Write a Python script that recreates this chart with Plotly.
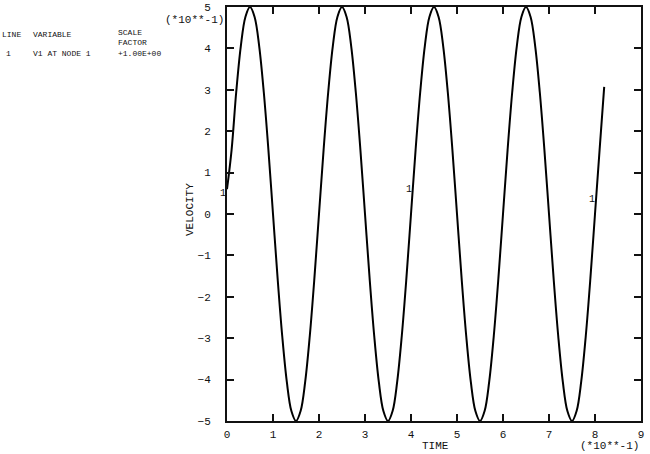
import plotly.graph_objects as go

# Data (time and velocity in units of 10**-1)
time = [0.0, 0.1, 0.2, 0.3, 0.4, 0.5, 0.6, 0.7, 0.8, 0.9,
        1.0, 1.1, 1.2, 1.3, 1.4, 1.5, 1.6, 1.7, 1.8, 1.9,
        2.0, 2.1, 2.2, 2.3, 2.4, 2.5, 2.6, 2.7, 2.8, 2.9,
        3.0, 3.1, 3.2, 3.3, 3.4, 3.5, 3.6, 3.7, 3.8, 3.9,
        4.0, 4.1, 4.2, 4.3, 4.4, 4.5, 4.6, 4.7, 4.8, 4.9,
        5.0, 5.1, 5.2, 5.3, 5.4, 5.5, 5.6, 5.7, 5.8, 5.9,
        6.0, 6.1, 6.2, 6.3, 6.4, 6.5, 6.6, 6.7, 6.8, 6.9,
        7.0, 7.1, 7.2, 7.3, 7.4, 7.5, 7.6, 7.7, 7.8, 7.9,
        8.0, 8.1, 8.2]
velocity = [0.6, 1.55, 2.94, 4.05, 4.76, 5.0, 4.76, 4.05, 2.94, 1.55,
            0.0, -1.55, -2.94, -4.05, -4.76, -5.0, -4.76, -4.05, -2.94, -1.55,
            0.0, 1.55, 2.94, 4.05, 4.76, 5.0, 4.76, 4.05, 2.94, 1.55,
            0.0, -1.55, -2.94, -4.05, -4.76, -5.0, -4.76, -4.05, -2.94, -1.55,
            0.0, 1.55, 2.94, 4.05, 4.76, 5.0, 4.76, 4.05, 2.94, 1.55,
            0.0, -1.55, -2.94, -4.05, -4.76, -5.0, -4.76, -4.05, -2.94, -1.55,
            0.0, 1.55, 2.94, 4.05, 4.76, 5.0, 4.76, 4.05, 2.94, 1.55,
            0.0, -1.55, -2.94, -4.05, -4.76, -5.0, -4.76, -4.05, -2.94, -1.55,
            0.0, 1.55, 3.07]

x_ticks = [0, 1, 2, 3, 4, 5, 6, 7, 8, 9]
y_ticks = [-5, -4, -3, -2, -1, 0, 1, 2, 3, 4, 5]

# curve-label ("1") positions
label_time = [0.0, 4.04, 8.02]
label_vel = [0.5, 0.6, 0.35]

MONO = "Liberation Mono"

fig = go.Figure()
fig.add_trace(go.Scatter(x=time, y=velocity, mode="lines",
                         line=dict(color="black", width=2, shape="spline", smoothing=1.0),
                         showlegend=False, hoverinfo="skip"))

L, R, T, B = 227, 641, 7, 421
W, H = 650, 454

def px(x):
    return (x - L) / (R - L)

def py(y):
    return (B - y) / (B - T)

ann = []
for lt, lv in zip(label_time, label_vel):
    ann.append(dict(x=lt, y=lv, xref="x", yref="y", text="1", showarrow=False,
                    xshift=-4, font=dict(family=MONO, size=10, color="#111")))

def txt(x, y, s, size=8, xanchor="left", yanchor="middle", angle=0):
    ann.append(dict(x=px(x), y=py(y), xref="paper", yref="paper", text=s,
                    showarrow=False, xanchor=xanchor, yanchor=yanchor,
                    textangle=angle, font=dict(family=MONO, size=size, color="#111")))

txt(0, 35, "LINE")
txt(31, 35, "VARIABLE")
txt(116, 33, "SCALE")
txt(116, 42, "FACTOR")
txt(4, 53, "1")
txt(31, 53, "V1 AT NODE 1")
txt(116, 53, "+1.00E+00")
txt(226, 20, "(*10**-1)", size=11, xanchor="right")
txt(641, 446, "(*10**-1)", size=11, xanchor="right")
txt(435, 446, "TIME", size=11, xanchor="center")
txt(190, 210, "VELOCITY", size=11, xanchor="center", angle=-90)

fig.update_layout(
    width=W, height=H,
    margin=dict(l=L, r=W - R, t=T, b=H - B, autoexpand=False),
    paper_bgcolor="white", plot_bgcolor="white",
    annotations=ann,
    font=dict(family=MONO, size=11, color="#111"),
)
fig.update_xaxes(range=[0, 9], tickvals=x_ticks, ticks="inside", ticklen=7,
                 tickwidth=2, tickcolor="#111", mirror="allticks", showline=True,
                 linecolor="#111", linewidth=2, showgrid=False, zeroline=False,
                 tickfont=dict(family=MONO, size=11), ticklabelstandoff=2)
fig.update_yaxes(range=[-5, 5], tickvals=y_ticks, ticks="inside", ticklen=7,
                 tickwidth=2, tickcolor="#111", mirror="allticks", showline=True,
                 linecolor="#111", linewidth=2, showgrid=False, zeroline=False,
                 tickfont=dict(family=MONO, size=11), ticklabelstandoff=12)

fig.write_html("out.html", config={"displayModeBar": False},
               post_script="document.body.style.margin='0';document.body.style.overflow='hidden';")
